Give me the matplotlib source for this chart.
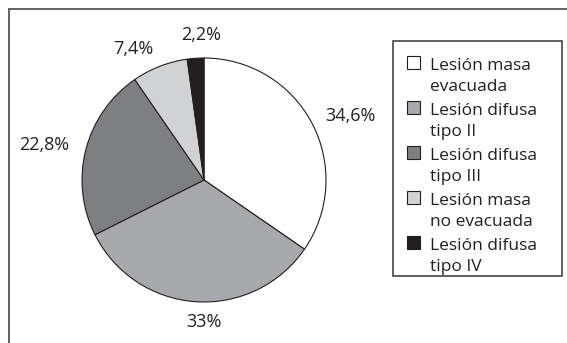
import numpy as np
import matplotlib
matplotlib.use('Agg')
import matplotlib.pyplot as plt
from matplotlib.patches import Rectangle

categories = ['Lesión masa\nevacuada', 'Lesión difusa\ntipo II', 'Lesión difusa\ntipo III',
              'Lesión masa\nno evacuada', 'Lesión difusa\ntipo IV']
values = [34.6, 33.0, 22.8, 7.4, 2.2]
value_labels = ['34,6%', '33%', '22,8%', '7,4%', '2,2%']
colors = ['#ffffff', '#a7a8ab', '#7e7f82', '#d1d2d4', '#231f20']

# label placement: distance from centre (radii) and small angle nudge (deg)
label_dist = [1.31, 1.16, 1.34, 1.22, 1.19]
label_nudge = [-4, 4, 2, 7, -3]

W, H = 567, 343
plt.rcParams['font.family'] = ['Open Sans', 'DejaVu Sans']
fig = plt.figure(figsize=(W / 100, H / 100), dpi=100)

# outer frame (right and bottom edges fall outside the picture)
fig.patches.append(Rectangle((9 / W, -0.1), 1.2, 1 - 9 / H + 0.1, transform=fig.transFigure,
                             fill=False, edgecolor='#555555', linewidth=1.3))

cx, cy, r = 204, 180, 122
ax = fig.add_axes([(cx - r) / W, (H - cy - r) / H, 2 * r / W, 2 * r / H])
wedges, _ = ax.pie(values, colors=colors, startangle=90, counterclock=False,
                   wedgeprops=dict(edgecolor='#231f20', linewidth=0.8))
ax.set_xlim(-1, 1)
ax.set_ylim(-1, 1)
ax.set_aspect('equal')
ax.axis('off')

for w, lab, d, nd in zip(wedges, value_labels, label_dist, label_nudge):
    ang = np.deg2rad((w.theta1 + w.theta2) / 2 + nd)
    ax.text(d * np.cos(ang), d * np.sin(ang), lab, ha='center', va='center',
            fontsize=13, color='#231f20', clip_on=False)

# legend drawn by hand so the swatch sits on the first line
lx0, ly0, lx1, ly1 = 393, 41, 562, 276
fig.patches.append(Rectangle((lx0 / W, 1 - ly1 / H), (lx1 - lx0) / W, (ly1 - ly0) / H,
                             transform=fig.transFigure, fill=False,
                             edgecolor='#444444', linewidth=1.2))
first_base, pitch, line_h = 70, 45, 21
for i, (cat, col) in enumerate(zip(categories, colors)):
    base = first_base + i * pitch
    fig.patches.append(Rectangle((407 / W, 1 - (base - 1) / H), 13 / W, 13 / H,
                                 transform=fig.transFigure, facecolor=col,
                                 edgecolor='#231f20', linewidth=0.8))
    for k, line in enumerate(cat.split('\n')):
        fig.text(430 / W, 1 - (base + k * line_h) / H, line, ha='left', va='baseline',
                 fontsize=12.5, color='#231f20')

fig.savefig('out.png', dpi=100)
